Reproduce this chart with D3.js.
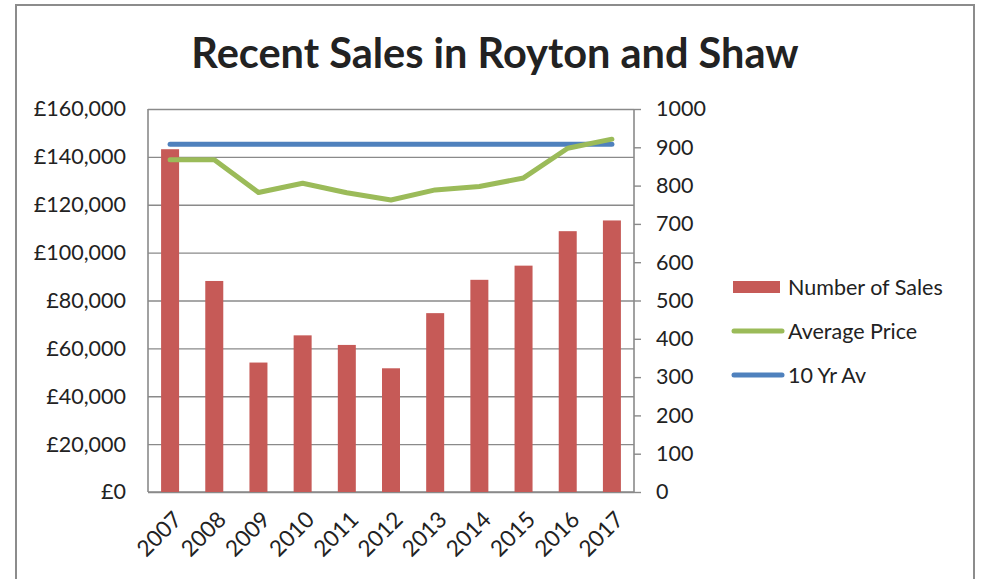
<!DOCTYPE html>
<html>
<head>
<meta charset="utf-8">
<script src="https://cdn.jsdelivr.net/npm/d3@7"></script>
<style>
  body { margin: 0; background: #fff; }
  text { font-family: Lato, "Open Sans", sans-serif; fill: #222; }
</style>
</head>
<body>
<div id="chart"></div>
<script>
// chart data
var years = ["2007", "2008", "2009", "2010", "2011", "2012", "2013", "2014", "2015", "2016", "2017"];
var numberOfSales = [895, 551, 338, 409, 384, 323, 467, 554, 591, 681, 709];
var averagePrice = [138800, 138800, 125100, 129000, 125000, 122000, 126200, 127600, 131200, 143600, 147400];
var tenYrAv = [145300, 145300, 145300, 145300, 145300, 145300, 145300, 145300, 145300, 145300, 145300];
var priceTicks = [0, 20000, 40000, 60000, 80000, 100000, 120000, 140000, 160000];
var salesTicks = [0, 100, 200, 300, 400, 500, 600, 700, 800, 900, 1000];
var legendNames = ["Number of Sales", "Average Price", "10 Yr Av"];

var width = 982, height = 579;
var plot = {left: 148, right: 634, top: 109, bottom: 492};
var red = "#C65A57", green = "#9BBB59", blue = "#4F81BD", grid = "#8a8a8a";

var svg = d3.select("#chart").append("svg")
  .attr("width", width)
  .attr("height", height);

// outer chart border
svg.append("rect")
  .attr("x", 16).attr("y", 5)
  .attr("width", 958).attr("height", 600)
  .attr("fill", "#fff")
  .attr("stroke", "#8c8c8c")
  .attr("stroke-width", 2);

var xc = d3.scalePoint().domain(years).range([plot.left, plot.right]).padding(0.5);
var yPrice = d3.scaleLinear().domain([0, 160000]).range([plot.bottom, plot.top]);
var ySales = d3.scaleLinear().domain([0, 1000]).range([plot.bottom, plot.top]);

// gridlines + left axis
var fmt = function(d) { return "£" + d3.format(",")(d); };
var leftAxis = svg.append("g")
  .attr("transform", "translate(" + plot.left + ",0)")
  .call(d3.axisLeft(yPrice).tickValues(priceTicks).tickFormat(fmt)
    .tickSize(-(plot.right - plot.left)).tickPadding(22));
leftAxis.select(".domain").remove();
leftAxis.selectAll("line").attr("stroke", grid).attr("stroke-width", 1.4);
leftAxis.selectAll("text").style("font-size", "21.5px").attr("fill", "#222");

// axis frame lines
svg.append("line").attr("x1", plot.left).attr("x2", plot.left)
  .attr("y1", plot.top).attr("y2", plot.bottom).attr("stroke", grid).attr("stroke-width", 1.6);
svg.append("line").attr("x1", plot.left).attr("x2", plot.right)
  .attr("y1", plot.bottom).attr("y2", plot.bottom).attr("stroke", grid).attr("stroke-width", 1.6);

// right axis
var rightAxis = svg.append("g")
  .attr("transform", "translate(" + plot.right + ",0)")
  .call(d3.axisRight(ySales).tickValues(salesTicks).tickFormat(d3.format("d"))
    .tickSize(7).tickPadding(15));
rightAxis.select(".domain").attr("stroke", grid).attr("stroke-width", 1.6)
  .attr("d", "M0," + plot.top + "V" + plot.bottom);
rightAxis.selectAll("line").attr("stroke", grid).attr("stroke-width", 1.4);
rightAxis.selectAll("text").style("font-size", "21.5px").attr("fill", "#222");

// bars
svg.selectAll("rect.bar")
  .data(numberOfSales)
  .enter().append("rect")
  .attr("class", "bar")
  .attr("x", function(d, i) { return xc(years[i]) - 9; })
  .attr("width", 18)
  .attr("y", function(d) { return ySales(d); })
  .attr("height", function(d) { return plot.bottom - ySales(d); })
  .attr("fill", red);

// lines
var priceLine = d3.line()
  .x(function(d, i) { return xc(years[i]); })
  .y(function(d) { return yPrice(d); });

svg.append("path").datum(tenYrAv)
  .attr("d", priceLine).attr("fill", "none")
  .attr("stroke", blue).attr("stroke-width", 5)
  .attr("stroke-linecap", "round").attr("stroke-linejoin", "round");

svg.append("path").datum(averagePrice)
  .attr("d", priceLine).attr("fill", "none")
  .attr("stroke", green).attr("stroke-width", 5)
  .attr("stroke-linecap", "round").attr("stroke-linejoin", "round");

// x labels, rotated
svg.selectAll("text.xlab")
  .data(years)
  .enter().append("text")
  .attr("class", "xlab")
  .attr("text-anchor", "end")
  .attr("transform", function(d) {
    return "translate(" + (xc(d) + 2) + "," + (plot.bottom + 18) + ") rotate(-45)";
  })
  .attr("dy", "0.7em")
  .style("font-size", "22.5px")
  .text(function(d) { return d; });

// title
svg.append("text")
  .attr("x", 495).attr("y", 68)
  .attr("text-anchor", "middle")
  .style("font-size", "41.5px")
  .style("font-weight", "bold")
  .attr("fill", "#000")
  .text("Recent Sales in Royton and Shaw");

// legend
var legend = svg.selectAll("g.legend")
  .data(legendNames)
  .enter().append("g")
  .attr("class", "legend")
  .attr("transform", function(d, i) { return "translate(733," + (287 + i * 44) + ")"; });

legend.each(function(d, i) {
  var g = d3.select(this);
  if (i === 0) {
    g.append("rect").attr("x", 0).attr("y", -6).attr("width", 47).attr("height", 12).attr("fill", red);
  } else {
    g.append("line").attr("x1", 1).attr("x2", 49).attr("y1", 0).attr("y2", 0)
      .attr("stroke", i === 1 ? green : blue).attr("stroke-width", 5).attr("stroke-linecap", "round");
  }
  g.append("text").attr("x", 55).attr("dy", "0.36em")
    .style("font-size", "21.5px").text(d);
});
</script>
</body>
</html>
